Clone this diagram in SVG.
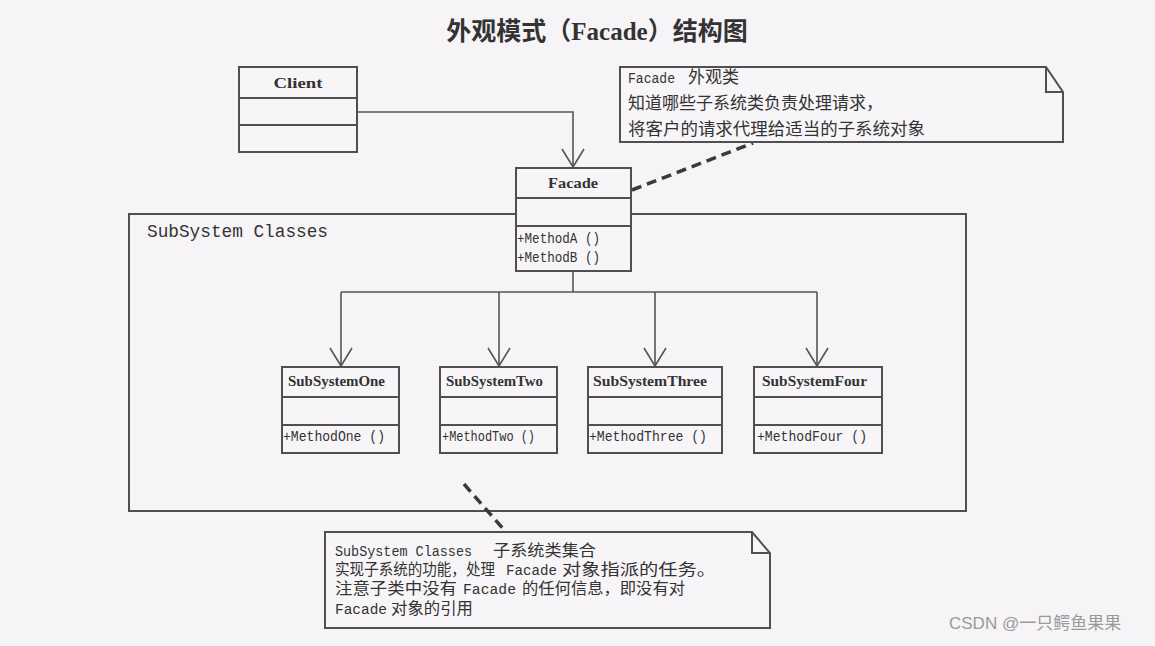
<svg xmlns="http://www.w3.org/2000/svg" width="1155" height="646" viewBox="0 0 1155 646">
<style>
.bg{fill:#f6f4f6}
.box{fill:#f7f5f7;stroke:#505050;stroke-width:2}
.ln{fill:none;stroke:#505050;stroke-width:2}
.conn{fill:none;stroke:#555;stroke-width:1.6}
.dash{fill:none;stroke:#3a3a3a;stroke-width:3.5;stroke-dasharray:10 6}
.name{font-family:"Liberation Serif",serif;font-weight:bold;font-size:15px;fill:#333}
.meth{font-family:"Liberation Mono",monospace;font-size:14px;fill:#333}
.pkg{font-family:"Liberation Mono",monospace;font-size:17.5px;fill:#333}
.title{font-family:"Noto Sans CJK SC",sans-serif;font-weight:bold;font-size:25px;fill:#333}
.tlat{font-family:"Liberation Serif",serif;font-weight:bold}
.cjk{font-family:"Liberation Sans","Noto Sans CJK SC",sans-serif;font-size:17px;fill:#333}
.cjk2{font-family:"Liberation Sans","Noto Sans CJK SC",sans-serif;font-size:16px;fill:#333}
.lat{font-family:"Liberation Mono",monospace;font-size:14px;fill:#333}
.wm{font-family:"Liberation Sans","Noto Sans CJK SC",sans-serif;font-size:17px;fill:#9a9a9a}
</style>
<defs>
<marker id="open" markerUnits="userSpaceOnUse" markerWidth="20" markerHeight="24" viewBox="0 0 20 24" refX="19" refY="12" orient="auto">
<path d="M1,1 L19,12 L1,23" fill="none" stroke="#555" stroke-width="1.6"/>
</marker>
</defs>
<rect class="bg" x="0" y="0" width="1155" height="646"/>
<text class="title" x="597" y="40" text-anchor="middle">外观模式（<tspan class="tlat">Facade</tspan>）结构图</text>

<g id="package">
<rect class="ln" x="129" y="214" width="837" height="297"/>
<text class="pkg" x="147" y="237" textLength="181" lengthAdjust="spacingAndGlyphs">SubSystem Classes</text>
</g>

<g id="connectors">
<path class="conn" d="M357,112 H573 V167" marker-end="url(#open)"/>
<path class="conn" d="M573,271 V292"/>
<path class="conn" d="M341,292 H817"/>
<path class="conn" d="M341,292 V366" marker-end="url(#open)"/>
<path class="conn" d="M499,292 V366" marker-end="url(#open)"/>
<path class="conn" d="M655,292 V366" marker-end="url(#open)"/>
<path class="conn" d="M817,292 V366" marker-end="url(#open)"/>
<path class="dash" d="M632,190 L753,143"/>
<path class="dash" d="M464,484 L505,531"/>
</g>

<g id="client">
<rect class="box" x="239" y="67" width="118" height="85"/>
<path class="ln" d="M239,98 H357 M239,125 H357"/>
<text class="name" x="298" y="88" text-anchor="middle" textLength="49" lengthAdjust="spacingAndGlyphs">Client</text>
</g>

<g id="facade">
<rect class="box" x="516" y="168" width="115" height="103"/>
<path class="ln" d="M516,198 H631 M516,226 H631"/>
<text class="name" x="573" y="188" text-anchor="middle" textLength="50" lengthAdjust="spacingAndGlyphs">Facade</text>
<text class="meth" x="517" y="243" textLength="83" lengthAdjust="spacingAndGlyphs">+MethodA ()</text>
<text class="meth" x="517" y="262" textLength="83" lengthAdjust="spacingAndGlyphs">+MethodB ()</text>
</g>

<g id="subsystemone">
<rect class="box" x="282" y="367" width="117" height="86"/>
<path class="ln" d="M282,397 H399 M282,425 H399"/>
<text class="name" x="288" y="386" textLength="97" lengthAdjust="spacingAndGlyphs">SubSystemOne</text>
<text class="meth" x="283" y="441" textLength="102" lengthAdjust="spacingAndGlyphs">+MethodOne ()</text>
</g>

<g id="subsystemtwo">
<rect class="box" x="440" y="367" width="117" height="86"/>
<path class="ln" d="M440,397 H557 M440,425 H557"/>
<text class="name" x="446" y="386" textLength="97" lengthAdjust="spacingAndGlyphs">SubSystemTwo</text>
<text class="meth" x="442" y="441" textLength="93" lengthAdjust="spacingAndGlyphs">+MethodTwo ()</text>
</g>

<g id="subsystemthree">
<rect class="box" x="588" y="367" width="134" height="86"/>
<path class="ln" d="M588,397 H722 M588,425 H722"/>
<text class="name" x="593" y="386" textLength="114" lengthAdjust="spacingAndGlyphs">SubSystemThree</text>
<text class="meth" x="589" y="441" textLength="118" lengthAdjust="spacingAndGlyphs">+MethodThree ()</text>
</g>

<g id="subsystemfour">
<rect class="box" x="754" y="367" width="128" height="86"/>
<path class="ln" d="M754,397 H882 M754,425 H882"/>
<text class="name" x="762" y="386" textLength="105" lengthAdjust="spacingAndGlyphs">SubSystemFour</text>
<text class="meth" x="757" y="441" textLength="110" lengthAdjust="spacingAndGlyphs">+MethodFour ()</text>
</g>

<g id="note-facade">
<path class="box" d="M620,67 H1046 L1063,92 V142 H620 Z"/>
<path class="ln" d="M1046,67 V92 H1063" stroke-width="1.5"/>
<text class="lat" x="628" y="83" textLength="47" lengthAdjust="spacingAndGlyphs">Facade</text>
<text class="cjk" x="688" y="83">外观类</text>
<text class="cjk" x="628" y="109" textLength="255" lengthAdjust="spacingAndGlyphs">知道哪些子系统类负责处理请求，</text>
<text class="cjk" x="628" y="135" textLength="297" lengthAdjust="spacingAndGlyphs">将客户的请求代理给适当的子系统对象</text>
</g>

<g id="note-subsystem">
<path class="box" d="M325,532 H752 L770,553 V628 H325 Z"/>
<path class="ln" d="M752,532 V553 H770" stroke-width="1.5"/>
<text class="lat" x="335" y="556" textLength="137" lengthAdjust="spacingAndGlyphs">SubSystem Classes</text>
<text class="cjk2" x="493" y="556" textLength="103" lengthAdjust="spacingAndGlyphs">子系统类集合</text>
<text class="cjk2" x="335" y="575" textLength="160" lengthAdjust="spacingAndGlyphs">实现子系统的功能，处理</text>
<text class="lat" x="506" y="575" textLength="51" lengthAdjust="spacingAndGlyphs">Facade</text>
<text class="cjk2" x="562" y="575" textLength="154" lengthAdjust="spacingAndGlyphs">对象指派的任务。</text>
<text class="cjk2" x="335" y="594" textLength="122" lengthAdjust="spacingAndGlyphs">注意子类中没有</text>
<text class="lat" x="463" y="594" textLength="53" lengthAdjust="spacingAndGlyphs">Facade</text>
<text class="cjk2" x="522" y="594" textLength="163" lengthAdjust="spacingAndGlyphs">的任何信息，即没有对</text>
<text class="lat" x="335" y="614" textLength="52" lengthAdjust="spacingAndGlyphs">Facade</text>
<text class="cjk2" x="391" y="614" textLength="82" lengthAdjust="spacingAndGlyphs">对象的引用</text>
</g>

<text class="wm" x="949" y="629">CSDN @一只鳄鱼果果</text>
</svg>
